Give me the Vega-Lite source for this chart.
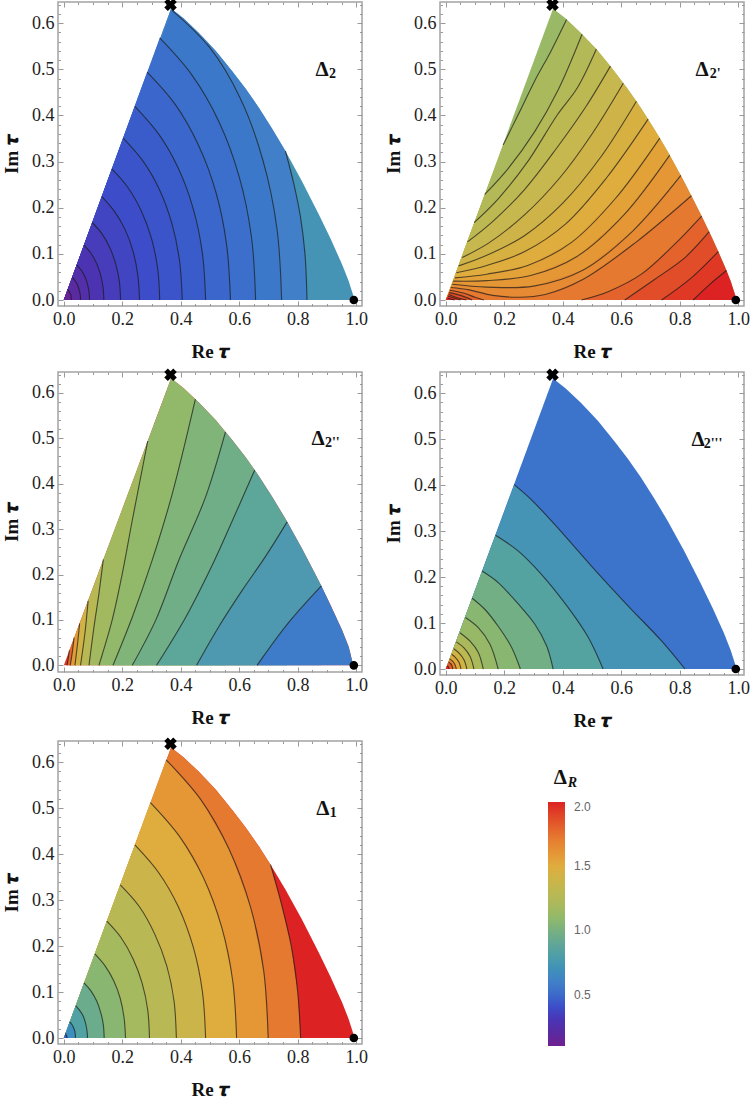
{
  "$schema": "https://vega.github.io/schema/vega-lite/v6.json",
  "padding": {"left": 1, "top": -3, "right": 0, "bottom": 0},
  "background": "white",
  "columns": 2,
  "spacing": {"column": 14, "row": 5},
  "resolve": {"legend": {"color": "independent"}},
  "config": {
    "font": "Liberation Serif",
    "view": {"stroke": "#a3a3a3", "strokeWidth": 1.5},
    "axis": {"grid": false, "domain": false, "tickColor": "#999999", "labelFont": "Liberation Serif", "labelFontSize": 18, "labelColor": "#222222", "titleFont": "Liberation Serif", "titleFontSize": 19, "titleFontWeight": "bold", "titleColor": "#111111"}
  },
  "datasets": {
    "markers": [
      {"x": 0.365, "y": 0.64, "kind": "corner"},
      {"x": 0.992, "y": 0, "kind": "cusp"}
    ],
    "p1": [
      {"level":0,"value":0.72,"x":0,"y":0,"edge":1},{"level":0,"value":0.72,"x":0.367,"y":0.632,"edge":1},{"level":0,"value":0.72,"x":0.41,"y":0.61,"edge":1},{"level":0,"value":0.72,"x":0.462,"y":0.579,"edge":1},{"level":0,"value":0.72,"x":0.52,"y":0.54,"edge":1},{"level":0,"value":0.72,"x":0.576,"y":0.496,"edge":1},{"level":0,"value":0.72,"x":0.622,"y":0.458,"edge":1},{"level":0,"value":0.72,"x":0.667,"y":0.417,"edge":1},{"level":0,"value":0.72,"x":0.712,"y":0.372,"edge":1},{"level":0,"value":0.72,"x":0.758,"y":0.323,"edge":1},{"level":0,"value":0.72,"x":0.815,"y":0.257,"edge":1},{"level":0,"value":0.72,"x":0.872,"y":0.186,"edge":1},{"level":0,"value":0.72,"x":0.913,"y":0.132,"edge":1},{"level":0,"value":0.72,"x":0.952,"y":0.077,"edge":1},{"level":0,"value":0.72,"x":0.975,"y":0.04,"edge":1},{"level":0,"value":0.72,"x":0.995,"y":0,"edge":1},
      {"level":1,"value":0.6,"x":0,"y":0,"edge":1},{"level":1,"value":0.6,"x":0.367,"y":0.632,"edge":1},{"level":1,"value":0.6,"x":0.41,"y":0.61,"edge":1},{"level":1,"value":0.6,"x":0.462,"y":0.579,"edge":1},{"level":1,"value":0.6,"x":0.52,"y":0.54,"edge":1},{"level":1,"value":0.6,"x":0.576,"y":0.496,"edge":1},{"level":1,"value":0.6,"x":0.622,"y":0.458,"edge":1},{"level":1,"value":0.6,"x":0.667,"y":0.417,"edge":1},{"level":1,"value":0.6,"x":0.712,"y":0.372,"edge":1},{"level":1,"value":0.6,"x":0.758,"y":0.323},{"level":1,"value":0.6,"x":0.787,"y":0.251},{"level":1,"value":0.6,"x":0.81,"y":0.178},{"level":1,"value":0.6,"x":0.825,"y":0.099},{"level":1,"value":0.6,"x":0.832,"y":0},
      {"level":2,"value":0.56,"x":0,"y":0,"edge":1},{"level":2,"value":0.56,"x":0.37,"y":0.628},{"level":2,"value":0.56,"x":0.498,"y":0.548},{"level":2,"value":0.56,"x":0.603,"y":0.438},{"level":2,"value":0.56,"x":0.681,"y":0.303},{"level":2,"value":0.56,"x":0.729,"y":0.155},{"level":2,"value":0.56,"x":0.745,"y":0},
      {"level":3,"value":0.52,"x":0,"y":0,"edge":1},{"level":3,"value":0.52,"x":0.328,"y":0.568},{"level":3,"value":0.52,"x":0.439,"y":0.487},{"level":3,"value":0.52,"x":0.531,"y":0.386},{"level":3,"value":0.52,"x":0.6,"y":0.267},{"level":3,"value":0.52,"x":0.642,"y":0.136},{"level":3,"value":0.52,"x":0.656,"y":0},
      {"level":4,"value":0.485,"x":0,"y":0,"edge":1},{"level":4,"value":0.485,"x":0.285,"y":0.494},{"level":4,"value":0.485,"x":0.381,"y":0.424},{"level":4,"value":0.485,"x":0.461,"y":0.335},{"level":4,"value":0.485,"x":0.521,"y":0.232},{"level":4,"value":0.485,"x":0.557,"y":0.119},{"level":4,"value":0.485,"x":0.57,"y":0},
      {"level":5,"value":0.45,"x":0,"y":0,"edge":1},{"level":5,"value":0.45,"x":0.243,"y":0.42},{"level":5,"value":0.45,"x":0.324,"y":0.36},{"level":5,"value":0.45,"x":0.392,"y":0.285},{"level":5,"value":0.45,"x":0.443,"y":0.197},{"level":5,"value":0.45,"x":0.474,"y":0.101},{"level":5,"value":0.45,"x":0.485,"y":0},
      {"level":6,"value":0.425,"x":0,"y":0,"edge":1},{"level":6,"value":0.425,"x":0.203,"y":0.351},{"level":6,"value":0.425,"x":0.271,"y":0.301},{"level":6,"value":0.425,"x":0.328,"y":0.238},{"level":6,"value":0.425,"x":0.37,"y":0.165},{"level":6,"value":0.425,"x":0.396,"y":0.084},{"level":6,"value":0.425,"x":0.405,"y":0},
      {"level":7,"value":0.4,"x":0,"y":0,"edge":1},{"level":7,"value":0.4,"x":0.164,"y":0.284},{"level":7,"value":0.4,"x":0.219,"y":0.244},{"level":7,"value":0.4,"x":0.265,"y":0.193},{"level":7,"value":0.4,"x":0.3,"y":0.133},{"level":7,"value":0.4,"x":0.321,"y":0.068},{"level":7,"value":0.4,"x":0.328,"y":0},
      {"level":8,"value":0.37,"x":0,"y":0,"edge":1},{"level":8,"value":0.37,"x":0.13,"y":0.224},{"level":8,"value":0.37,"x":0.173,"y":0.192},{"level":8,"value":0.37,"x":0.21,"y":0.152},{"level":8,"value":0.37,"x":0.237,"y":0.105},{"level":8,"value":0.37,"x":0.253,"y":0.054},{"level":8,"value":0.37,"x":0.259,"y":0},
      {"level":9,"value":0.33,"x":0,"y":0,"edge":1},{"level":9,"value":0.33,"x":0.097,"y":0.168},{"level":9,"value":0.33,"x":0.13,"y":0.144},{"level":9,"value":0.33,"x":0.157,"y":0.114},{"level":9,"value":0.33,"x":0.177,"y":0.079},{"level":9,"value":0.33,"x":0.19,"y":0.04},{"level":9,"value":0.33,"x":0.194,"y":0},
      {"level":10,"value":0.29,"x":0,"y":0,"edge":1},{"level":10,"value":0.29,"x":0.069,"y":0.119},{"level":10,"value":0.29,"x":0.092,"y":0.102},{"level":10,"value":0.29,"x":0.111,"y":0.081},{"level":10,"value":0.29,"x":0.125,"y":0.056},{"level":10,"value":0.29,"x":0.134,"y":0.028},{"level":10,"value":0.29,"x":0.137,"y":0},
      {"level":11,"value":0.25,"x":0,"y":0,"edge":1},{"level":11,"value":0.25,"x":0.044,"y":0.076},{"level":11,"value":0.25,"x":0.059,"y":0.065},{"level":11,"value":0.25,"x":0.071,"y":0.052},{"level":11,"value":0.25,"x":0.08,"y":0.036},{"level":11,"value":0.25,"x":0.086,"y":0.018},{"level":11,"value":0.25,"x":0.088,"y":0},
      {"level":12,"value":0.2,"x":0,"y":0,"edge":1},{"level":12,"value":0.2,"x":0.029,"y":0.049},{"level":12,"value":0.2,"x":0.038,"y":0.042},{"level":12,"value":0.2,"x":0.046,"y":0.034},{"level":12,"value":0.2,"x":0.052,"y":0.023},{"level":12,"value":0.2,"x":0.056,"y":0.012},{"level":12,"value":0.2,"x":0.057,"y":0},
      {"level":13,"value":0.14,"x":0,"y":0,"edge":1},{"level":13,"value":0.14,"x":0.013,"y":0.023},{"level":13,"value":0.14,"x":0.017,"y":0.019},{"level":13,"value":0.14,"x":0.021,"y":0.015},{"level":13,"value":0.14,"x":0.024,"y":0.011},{"level":13,"value":0.14,"x":0.026,"y":0}
    ],
    "p2": [
      {"level":0,"value":1.13,"x":0,"y":0,"edge":1},{"level":0,"value":1.13,"x":0.367,"y":0.632,"edge":1},{"level":0,"value":1.13,"x":0.41,"y":0.61,"edge":1},{"level":0,"value":1.13,"x":0.462,"y":0.579,"edge":1},{"level":0,"value":1.13,"x":0.52,"y":0.54,"edge":1},{"level":0,"value":1.13,"x":0.576,"y":0.496,"edge":1},{"level":0,"value":1.13,"x":0.622,"y":0.458,"edge":1},{"level":0,"value":1.13,"x":0.667,"y":0.417,"edge":1},{"level":0,"value":1.13,"x":0.712,"y":0.372,"edge":1},{"level":0,"value":1.13,"x":0.758,"y":0.323,"edge":1},{"level":0,"value":1.13,"x":0.815,"y":0.257,"edge":1},{"level":0,"value":1.13,"x":0.872,"y":0.186,"edge":1},{"level":0,"value":1.13,"x":0.913,"y":0.132,"edge":1},{"level":0,"value":1.13,"x":0.952,"y":0.077,"edge":1},{"level":0,"value":1.13,"x":0.975,"y":0.04,"edge":1},{"level":0,"value":1.13,"x":0.995,"y":0,"edge":1},
      {"level":1,"value":1.2,"x":0,"y":0,"edge":1},{"level":1,"value":1.2,"x":0.196,"y":0.336},{"level":1,"value":1.2,"x":0.25,"y":0.405},{"level":1,"value":1.2,"x":0.304,"y":0.475},{"level":1,"value":1.2,"x":0.36,"y":0.54},{"level":1,"value":1.2,"x":0.413,"y":0.608},{"level":1,"value":1.2,"x":0.466,"y":0.576,"edge":1},
      {"level":2,"value":1.25,"x":0,"y":0,"edge":1},{"level":2,"value":1.25,"x":0.133,"y":0.229},{"level":2,"value":1.25,"x":0.213,"y":0.285},{"level":2,"value":1.25,"x":0.304,"y":0.365},{"level":2,"value":1.25,"x":0.384,"y":0.455},{"level":2,"value":1.25,"x":0.466,"y":0.576},{"level":2,"value":1.25,"x":0.515,"y":0.544,"edge":1},
      {"level":3,"value":1.3,"x":0,"y":0,"edge":1},{"level":3,"value":1.3,"x":0.097,"y":0.168},{"level":3,"value":1.3,"x":0.18,"y":0.22},{"level":3,"value":1.3,"x":0.28,"y":0.3},{"level":3,"value":1.3,"x":0.38,"y":0.4},{"level":3,"value":1.3,"x":0.45,"y":0.46},{"level":3,"value":1.3,"x":0.515,"y":0.544},{"level":3,"value":1.3,"x":0.563,"y":0.507,"edge":1},
      {"level":4,"value":1.35,"x":0,"y":0,"edge":1},{"level":4,"value":1.35,"x":0.074,"y":0.126},{"level":4,"value":1.35,"x":0.16,"y":0.17},{"level":4,"value":1.35,"x":0.27,"y":0.24},{"level":4,"value":1.35,"x":0.38,"y":0.33},{"level":4,"value":1.35,"x":0.48,"y":0.42},{"level":4,"value":1.35,"x":0.563,"y":0.507},{"level":4,"value":1.35,"x":0.607,"y":0.47,"edge":1},
      {"level":5,"value":1.4,"x":0,"y":0,"edge":1},{"level":5,"value":1.4,"x":0.056,"y":0.092},{"level":5,"value":1.4,"x":0.15,"y":0.125},{"level":5,"value":1.4,"x":0.27,"y":0.185},{"level":5,"value":1.4,"x":0.39,"y":0.265},{"level":5,"value":1.4,"x":0.5,"y":0.36},{"level":5,"value":1.4,"x":0.607,"y":0.47},{"level":5,"value":1.4,"x":0.652,"y":0.431,"edge":1},
      {"level":6,"value":1.45,"x":0,"y":0,"edge":1},{"level":6,"value":1.45,"x":0.044,"y":0.074},{"level":6,"value":1.45,"x":0.14,"y":0.097},{"level":6,"value":1.45,"x":0.27,"y":0.14},{"level":6,"value":1.45,"x":0.4,"y":0.21},{"level":6,"value":1.45,"x":0.53,"y":0.31},{"level":6,"value":1.45,"x":0.652,"y":0.431},{"level":6,"value":1.45,"x":0.692,"y":0.392,"edge":1},
      {"level":7,"value":1.5,"x":0,"y":0,"edge":1},{"level":7,"value":1.5,"x":0.036,"y":0.059},{"level":7,"value":1.5,"x":0.14,"y":0.075},{"level":7,"value":1.5,"x":0.27,"y":0.105},{"level":7,"value":1.5,"x":0.41,"y":0.165},{"level":7,"value":1.5,"x":0.55,"y":0.265},{"level":7,"value":1.5,"x":0.692,"y":0.392},{"level":7,"value":1.5,"x":0.732,"y":0.351,"edge":1},
      {"level":8,"value":1.55,"x":0,"y":0,"edge":1},{"level":8,"value":1.55,"x":0.031,"y":0.048},{"level":8,"value":1.55,"x":0.14,"y":0.056},{"level":8,"value":1.55,"x":0.28,"y":0.075},{"level":8,"value":1.55,"x":0.43,"y":0.125},{"level":8,"value":1.55,"x":0.58,"y":0.22},{"level":8,"value":1.55,"x":0.732,"y":0.351},{"level":8,"value":1.55,"x":0.766,"y":0.314,"edge":1},
      {"level":9,"value":1.6,"x":0,"y":0,"edge":1},{"level":9,"value":1.6,"x":0.025,"y":0.041},{"level":9,"value":1.6,"x":0.14,"y":0.042},{"level":9,"value":1.6,"x":0.29,"y":0.053},{"level":9,"value":1.6,"x":0.45,"y":0.095},{"level":9,"value":1.6,"x":0.61,"y":0.185},{"level":9,"value":1.6,"x":0.766,"y":0.314},{"level":9,"value":1.6,"x":0.804,"y":0.27,"edge":1},
      {"level":10,"value":1.65,"x":0,"y":0,"edge":1},{"level":10,"value":1.65,"x":0.022,"y":0.034},{"level":10,"value":1.65,"x":0.14,"y":0.028},{"level":10,"value":1.65,"x":0.3,"y":0.03},{"level":10,"value":1.65,"x":0.47,"y":0.065},{"level":10,"value":1.65,"x":0.64,"y":0.15},{"level":10,"value":1.65,"x":0.804,"y":0.27},{"level":10,"value":1.65,"x":0.84,"y":0.226,"edge":1},
      {"level":11,"value":1.72,"x":0,"y":0,"edge":1},{"level":11,"value":1.72,"x":0.017,"y":0.027},{"level":11,"value":1.72,"x":0.08,"y":0.022},{"level":11,"value":1.72,"x":0.16,"y":0.01},{"level":11,"value":1.72,"x":0.25,"y":0.006},{"level":11,"value":1.72,"x":0.34,"y":0.012},{"level":11,"value":1.72,"x":0.47,"y":0.045},{"level":11,"value":1.72,"x":0.65,"y":0.125},{"level":11,"value":1.72,"x":0.84,"y":0.226},{"level":11,"value":1.72,"x":0.875,"y":0.182,"edge":1},
      {"level":12,"value":1.8,"x":0.464,"y":0},{"level":12,"value":1.8,"x":0.555,"y":0.018},{"level":12,"value":1.8,"x":0.669,"y":0.056},{"level":12,"value":1.8,"x":0.783,"y":0.121},{"level":12,"value":1.8,"x":0.875,"y":0.182},{"level":12,"value":1.8,"x":0.901,"y":0.148,"edge":1},
      {"level":13,"value":1.87,"x":0.612,"y":0},{"level":13,"value":1.87,"x":0.715,"y":0.045},{"level":13,"value":1.87,"x":0.818,"y":0.092},{"level":13,"value":1.87,"x":0.901,"y":0.148},{"level":13,"value":1.87,"x":0.932,"y":0.105,"edge":1},
      {"level":14,"value":1.94,"x":0.738,"y":0},{"level":14,"value":1.94,"x":0.84,"y":0.048},{"level":14,"value":1.94,"x":0.932,"y":0.105},{"level":14,"value":1.94,"x":0.96,"y":0.064,"edge":1},
      {"level":15,"value":2.0,"x":0.846,"y":0},{"level":15,"value":2.0,"x":0.903,"y":0.034},{"level":15,"value":2.0,"x":0.96,"y":0.064},{"level":15,"value":2.0,"x":0.975,"y":0.04,"edge":1},{"level":15,"value":2.0,"x":0.995,"y":0,"edge":1},
      {"level":16,"value":1.8,"x":0,"y":0,"edge":1},{"level":16,"value":1.8,"x":0.014,"y":0.021},{"level":16,"value":1.8,"x":0.06,"y":0.015},{"level":16,"value":1.8,"x":0.1,"y":0.006},{"level":16,"value":1.8,"x":0.13,"y":0},
      {"level":17,"value":1.86,"x":0,"y":0,"edge":1},{"level":17,"value":1.86,"x":0.012,"y":0.016},{"level":17,"value":1.86,"x":0.05,"y":0.01},{"level":17,"value":1.86,"x":0.09,"y":0},
      {"level":18,"value":1.91,"x":0,"y":0,"edge":1},{"level":18,"value":1.91,"x":0.01,"y":0.012},{"level":18,"value":1.91,"x":0.04,"y":0.005},{"level":18,"value":1.91,"x":0.07,"y":0},
      {"level":19,"value":1.95,"x":0,"y":0,"edge":1},{"level":19,"value":1.95,"x":0.008,"y":0.008},{"level":19,"value":1.95,"x":0.05,"y":0},
      {"level":20,"value":2.0,"x":0,"y":0,"edge":1},{"level":20,"value":2.0,"x":0.006,"y":0.004},{"level":20,"value":2.0,"x":0.03,"y":0}
    ],
    "p3": [
      {"level":0,"value":1.95,"x":0,"y":0,"edge":1},{"level":0,"value":1.95,"x":0.367,"y":0.632,"edge":1},{"level":0,"value":1.95,"x":0.41,"y":0.61,"edge":1},{"level":0,"value":1.95,"x":0.462,"y":0.579,"edge":1},{"level":0,"value":1.95,"x":0.52,"y":0.54,"edge":1},{"level":0,"value":1.95,"x":0.576,"y":0.496,"edge":1},{"level":0,"value":1.95,"x":0.622,"y":0.458,"edge":1},{"level":0,"value":1.95,"x":0.667,"y":0.417,"edge":1},{"level":0,"value":1.95,"x":0.712,"y":0.372,"edge":1},{"level":0,"value":1.95,"x":0.758,"y":0.323,"edge":1},{"level":0,"value":1.95,"x":0.815,"y":0.257,"edge":1},{"level":0,"value":1.95,"x":0.872,"y":0.186,"edge":1},{"level":0,"value":1.95,"x":0.913,"y":0.132,"edge":1},{"level":0,"value":1.95,"x":0.952,"y":0.077,"edge":1},{"level":0,"value":1.95,"x":0.975,"y":0.04,"edge":1},{"level":0,"value":1.95,"x":0.99,"y":0,"edge":1},
      {"level":1,"value":1.78,"x":0.011,"y":0},{"level":1,"value":1.78,"x":0.015,"y":0.015},{"level":1,"value":1.78,"x":0.019,"y":0.033},{"level":1,"value":1.78,"x":0.035,"y":0.061,"edge":1},
      {"level":2,"value":1.58,"x":0.022,"y":0},{"level":2,"value":1.58,"x":0.029,"y":0.029},{"level":2,"value":1.58,"x":0.035,"y":0.061},{"level":2,"value":1.58,"x":0.054,"y":0.092,"edge":1},
      {"level":3,"value":1.42,"x":0.038,"y":0},{"level":3,"value":1.42,"x":0.047,"y":0.048},{"level":3,"value":1.42,"x":0.054,"y":0.092},{"level":3,"value":1.42,"x":0.083,"y":0.142,"edge":1},
      {"level":4,"value":1.28,"x":0.057,"y":0},{"level":4,"value":1.28,"x":0.072,"y":0.07},{"level":4,"value":1.28,"x":0.083,"y":0.142},{"level":4,"value":1.28,"x":0.135,"y":0.233,"edge":1},
      {"level":5,"value":1.17,"x":0.086,"y":0},{"level":5,"value":1.17,"x":0.103,"y":0.084},{"level":5,"value":1.17,"x":0.12,"y":0.158},{"level":5,"value":1.17,"x":0.135,"y":0.233},{"level":5,"value":1.17,"x":0.287,"y":0.494,"edge":1},
      {"level":6,"value":1.1,"x":0.12,"y":0},{"level":6,"value":1.1,"x":0.165,"y":0.099},{"level":6,"value":1.1,"x":0.2,"y":0.202},{"level":6,"value":1.1,"x":0.234,"y":0.319},{"level":6,"value":1.1,"x":0.287,"y":0.494},{"level":6,"value":1.1,"x":0.367,"y":0.632,"edge":1},{"level":6,"value":1.1,"x":0.41,"y":0.61,"edge":1},{"level":6,"value":1.1,"x":0.45,"y":0.586,"edge":1},
      {"level":7,"value":1.04,"x":0.168,"y":0},{"level":7,"value":1.04,"x":0.234,"y":0.106},{"level":7,"value":1.04,"x":0.302,"y":0.231},{"level":7,"value":1.04,"x":0.371,"y":0.378},{"level":7,"value":1.04,"x":0.45,"y":0.586},{"level":7,"value":1.04,"x":0.462,"y":0.579,"edge":1},{"level":7,"value":1.04,"x":0.52,"y":0.54,"edge":1},{"level":7,"value":1.04,"x":0.553,"y":0.514,"edge":1},
      {"level":8,"value":0.97,"x":0.234,"y":0},{"level":8,"value":0.97,"x":0.314,"y":0.099},{"level":8,"value":0.97,"x":0.393,"y":0.231},{"level":8,"value":0.97,"x":0.485,"y":0.371},{"level":8,"value":0.97,"x":0.553,"y":0.514},{"level":8,"value":0.97,"x":0.576,"y":0.496,"edge":1},{"level":8,"value":0.97,"x":0.622,"y":0.458,"edge":1},{"level":8,"value":0.97,"x":0.653,"y":0.43,"edge":1},
      {"level":9,"value":0.88,"x":0.317,"y":0},{"level":9,"value":0.88,"x":0.416,"y":0.105},{"level":9,"value":0.88,"x":0.507,"y":0.22},{"level":9,"value":0.88,"x":0.576,"y":0.318},{"level":9,"value":0.88,"x":0.653,"y":0.43},{"level":9,"value":0.88,"x":0.667,"y":0.417,"edge":1},{"level":9,"value":0.88,"x":0.712,"y":0.372,"edge":1},{"level":9,"value":0.88,"x":0.764,"y":0.316,"edge":1},
      {"level":10,"value":0.76,"x":0.454,"y":0},{"level":10,"value":0.76,"x":0.53,"y":0.085},{"level":10,"value":0.76,"x":0.61,"y":0.165},{"level":10,"value":0.76,"x":0.69,"y":0.24},{"level":10,"value":0.76,"x":0.764,"y":0.316},{"level":10,"value":0.76,"x":0.815,"y":0.257,"edge":1},{"level":10,"value":0.76,"x":0.872,"y":0.186,"edge":1},{"level":10,"value":0.76,"x":0.881,"y":0.175,"edge":1},
      {"level":11,"value":0.58,"x":0.661,"y":0},{"level":11,"value":0.58,"x":0.77,"y":0.095},{"level":11,"value":0.58,"x":0.881,"y":0.175},{"level":11,"value":0.58,"x":0.913,"y":0.132,"edge":1},{"level":11,"value":0.58,"x":0.952,"y":0.077,"edge":1},{"level":11,"value":0.58,"x":0.975,"y":0.04,"edge":1},{"level":11,"value":0.58,"x":0.99,"y":0,"edge":1}
    ],
    "p4": [
      {"level":0,"value":0.54,"x":0,"y":0,"edge":1},{"level":0,"value":0.54,"x":0.367,"y":0.632,"edge":1},{"level":0,"value":0.54,"x":0.41,"y":0.61,"edge":1},{"level":0,"value":0.54,"x":0.462,"y":0.579,"edge":1},{"level":0,"value":0.54,"x":0.52,"y":0.54,"edge":1},{"level":0,"value":0.54,"x":0.576,"y":0.496,"edge":1},{"level":0,"value":0.54,"x":0.622,"y":0.458,"edge":1},{"level":0,"value":0.54,"x":0.667,"y":0.417,"edge":1},{"level":0,"value":0.54,"x":0.712,"y":0.372,"edge":1},{"level":0,"value":0.54,"x":0.758,"y":0.323,"edge":1},{"level":0,"value":0.54,"x":0.815,"y":0.257,"edge":1},{"level":0,"value":0.54,"x":0.872,"y":0.186,"edge":1},{"level":0,"value":0.54,"x":0.913,"y":0.132,"edge":1},{"level":0,"value":0.54,"x":0.952,"y":0.077,"edge":1},{"level":0,"value":0.54,"x":0.975,"y":0.04,"edge":1},{"level":0,"value":0.54,"x":0.995,"y":0,"edge":1},
      {"level":1,"value":0.72,"x":0,"y":0,"edge":1},{"level":1,"value":0.72,"x":0.234,"y":0.401},{"level":1,"value":0.72,"x":0.293,"y":0.368},{"level":1,"value":0.72,"x":0.373,"y":0.314},{"level":1,"value":0.72,"x":0.498,"y":0.224},{"level":1,"value":0.72,"x":0.624,"y":0.137},{"level":1,"value":0.72,"x":0.738,"y":0.061},{"level":1,"value":0.72,"x":0.818,"y":0},
      {"level":2,"value":0.85,"x":0,"y":0,"edge":1},{"level":2,"value":0.85,"x":0.17,"y":0.291},{"level":2,"value":0.85,"x":0.247,"y":0.257},{"level":2,"value":0.85,"x":0.327,"y":0.206},{"level":2,"value":0.85,"x":0.418,"y":0.134},{"level":2,"value":0.85,"x":0.487,"y":0.069},{"level":2,"value":0.85,"x":0.538,"y":0},
      {"level":3,"value":0.98,"x":0,"y":0,"edge":1},{"level":3,"value":0.98,"x":0.124,"y":0.213},{"level":3,"value":0.98,"x":0.179,"y":0.188},{"level":3,"value":0.98,"x":0.247,"y":0.142},{"level":3,"value":0.98,"x":0.304,"y":0.098},{"level":3,"value":0.98,"x":0.345,"y":0.05},{"level":3,"value":0.98,"x":0.367,"y":0},
      {"level":4,"value":1.07,"x":0,"y":0,"edge":1},{"level":4,"value":1.07,"x":0.09,"y":0.154},{"level":4,"value":1.07,"x":0.133,"y":0.13},{"level":4,"value":1.07,"x":0.179,"y":0.093},{"level":4,"value":1.07,"x":0.225,"y":0.047},{"level":4,"value":1.07,"x":0.255,"y":0},
      {"level":5,"value":1.12,"x":0,"y":0,"edge":1},{"level":5,"value":1.12,"x":0.067,"y":0.112},{"level":5,"value":1.12,"x":0.111,"y":0.09},{"level":5,"value":1.12,"x":0.151,"y":0.054},{"level":5,"value":1.12,"x":0.179,"y":0},
      {"level":6,"value":1.2,"x":0,"y":0,"edge":1},{"level":6,"value":1.2,"x":0.048,"y":0.079},{"level":6,"value":1.2,"x":0.082,"y":0.061},{"level":6,"value":1.2,"x":0.111,"y":0.036},{"level":6,"value":1.2,"x":0.128,"y":0},
      {"level":7,"value":1.3,"x":0,"y":0,"edge":1},{"level":7,"value":1.3,"x":0.036,"y":0.059},{"level":7,"value":1.3,"x":0.062,"y":0.046},{"level":7,"value":1.3,"x":0.083,"y":0.027},{"level":7,"value":1.3,"x":0.096,"y":0},
      {"level":8,"value":1.42,"x":0,"y":0,"edge":1},{"level":8,"value":1.42,"x":0.027,"y":0.044},{"level":8,"value":1.42,"x":0.046,"y":0.034},{"level":8,"value":1.42,"x":0.062,"y":0.02},{"level":8,"value":1.42,"x":0.072,"y":0},
      {"level":9,"value":1.52,"x":0,"y":0,"edge":1},{"level":9,"value":1.52,"x":0.02,"y":0.032},{"level":9,"value":1.52,"x":0.033,"y":0.025},{"level":9,"value":1.52,"x":0.045,"y":0.015},{"level":9,"value":1.52,"x":0.052,"y":0},
      {"level":10,"value":1.68,"x":0,"y":0,"edge":1},{"level":10,"value":1.68,"x":0.013,"y":0.022},{"level":10,"value":1.68,"x":0.023,"y":0.017},{"level":10,"value":1.68,"x":0.031,"y":0.01},{"level":10,"value":1.68,"x":0.036,"y":0},
      {"level":11,"value":1.82,"x":0,"y":0,"edge":1},{"level":11,"value":1.82,"x":0.009,"y":0.015},{"level":11,"value":1.82,"x":0.016,"y":0.012},{"level":11,"value":1.82,"x":0.021,"y":0.007},{"level":11,"value":1.82,"x":0.024,"y":0},
      {"level":12,"value":2.0,"x":0,"y":0,"edge":1},{"level":12,"value":2.0,"x":0.004,"y":0.007},{"level":12,"value":2.0,"x":0.008,"y":0.005},{"level":12,"value":2.0,"x":0.012,"y":0}
    ],
    "p5": [
      {"level":0,"value":2.0,"x":0,"y":0,"edge":1},{"level":0,"value":2.0,"x":0.367,"y":0.632,"edge":1},{"level":0,"value":2.0,"x":0.41,"y":0.61,"edge":1},{"level":0,"value":2.0,"x":0.462,"y":0.579,"edge":1},{"level":0,"value":2.0,"x":0.52,"y":0.54,"edge":1},{"level":0,"value":2.0,"x":0.576,"y":0.496,"edge":1},{"level":0,"value":2.0,"x":0.622,"y":0.458,"edge":1},{"level":0,"value":2.0,"x":0.667,"y":0.417,"edge":1},{"level":0,"value":2.0,"x":0.712,"y":0.372,"edge":1},{"level":0,"value":2.0,"x":0.758,"y":0.323,"edge":1},{"level":0,"value":2.0,"x":0.815,"y":0.257,"edge":1},{"level":0,"value":2.0,"x":0.872,"y":0.186,"edge":1},{"level":0,"value":2.0,"x":0.913,"y":0.132,"edge":1},{"level":0,"value":2.0,"x":0.952,"y":0.077,"edge":1},{"level":0,"value":2.0,"x":0.975,"y":0.04,"edge":1},{"level":0,"value":2.0,"x":0.995,"y":0,"edge":1},
      {"level":1,"value":1.72,"x":0,"y":0,"edge":1},{"level":1,"value":1.72,"x":0.367,"y":0.632,"edge":1},{"level":1,"value":1.72,"x":0.41,"y":0.61,"edge":1},{"level":1,"value":1.72,"x":0.462,"y":0.579,"edge":1},{"level":1,"value":1.72,"x":0.52,"y":0.54,"edge":1},{"level":1,"value":1.72,"x":0.576,"y":0.496,"edge":1},{"level":1,"value":1.72,"x":0.622,"y":0.458,"edge":1},{"level":1,"value":1.72,"x":0.667,"y":0.417,"edge":1},{"level":1,"value":1.72,"x":0.707,"y":0.377},{"level":1,"value":1.72,"x":0.745,"y":0.29},{"level":1,"value":1.72,"x":0.778,"y":0.2},{"level":1,"value":1.72,"x":0.8,"y":0.1},{"level":1,"value":1.72,"x":0.81,"y":0},
      {"level":2,"value":1.6,"x":0,"y":0,"edge":1},{"level":2,"value":1.6,"x":0.35,"y":0.605},{"level":2,"value":1.6,"x":0.468,"y":0.519},{"level":2,"value":1.6,"x":0.565,"y":0.411},{"level":2,"value":1.6,"x":0.639,"y":0.284},{"level":2,"value":1.6,"x":0.684,"y":0.145},{"level":2,"value":1.6,"x":0.699,"y":0},
      {"level":3,"value":1.5,"x":0,"y":0,"edge":1},{"level":3,"value":1.5,"x":0.296,"y":0.512},{"level":3,"value":1.5,"x":0.395,"y":0.439},{"level":3,"value":1.5,"x":0.478,"y":0.348},{"level":3,"value":1.5,"x":0.54,"y":0.241},{"level":3,"value":1.5,"x":0.578,"y":0.123},{"level":3,"value":1.5,"x":0.591,"y":0},
      {"level":4,"value":1.38,"x":0,"y":0,"edge":1},{"level":4,"value":1.38,"x":0.243,"y":0.42},{"level":4,"value":1.38,"x":0.324,"y":0.36},{"level":4,"value":1.38,"x":0.392,"y":0.285},{"level":4,"value":1.38,"x":0.443,"y":0.197},{"level":4,"value":1.38,"x":0.474,"y":0.101},{"level":4,"value":1.38,"x":0.485,"y":0},
      {"level":5,"value":1.28,"x":0,"y":0,"edge":1},{"level":5,"value":1.28,"x":0.193,"y":0.333},{"level":5,"value":1.28,"x":0.258,"y":0.286},{"level":5,"value":1.28,"x":0.311,"y":0.226},{"level":5,"value":1.28,"x":0.352,"y":0.157},{"level":5,"value":1.28,"x":0.377,"y":0.08},{"level":5,"value":1.28,"x":0.385,"y":0},
      {"level":6,"value":1.18,"x":0,"y":0,"edge":1},{"level":6,"value":1.18,"x":0.147,"y":0.254},{"level":6,"value":1.18,"x":0.196,"y":0.218},{"level":6,"value":1.18,"x":0.237,"y":0.172},{"level":6,"value":1.18,"x":0.268,"y":0.119},{"level":6,"value":1.18,"x":0.287,"y":0.061},{"level":6,"value":1.18,"x":0.293,"y":0},
      {"level":7,"value":1.07,"x":0,"y":0,"edge":1},{"level":7,"value":1.07,"x":0.106,"y":0.183},{"level":7,"value":1.07,"x":0.141,"y":0.157},{"level":7,"value":1.07,"x":0.171,"y":0.124},{"level":7,"value":1.07,"x":0.193,"y":0.086},{"level":7,"value":1.07,"x":0.206,"y":0.044},{"level":7,"value":1.07,"x":0.211,"y":0},
      {"level":8,"value":0.95,"x":0,"y":0,"edge":1},{"level":8,"value":0.95,"x":0.069,"y":0.12},{"level":8,"value":0.95,"x":0.092,"y":0.103},{"level":8,"value":0.95,"x":0.112,"y":0.081},{"level":8,"value":0.95,"x":0.126,"y":0.056},{"level":8,"value":0.95,"x":0.135,"y":0.029},{"level":8,"value":0.95,"x":0.138,"y":0},
      {"level":9,"value":0.83,"x":0,"y":0,"edge":1},{"level":9,"value":0.83,"x":0.041,"y":0.07},{"level":9,"value":0.83,"x":0.054,"y":0.06},{"level":9,"value":0.83,"x":0.066,"y":0.048},{"level":9,"value":0.83,"x":0.074,"y":0.033},{"level":9,"value":0.83,"x":0.079,"y":0.017},{"level":9,"value":0.83,"x":0.081,"y":0},
      {"level":10,"value":0.68,"x":0,"y":0,"edge":1},{"level":10,"value":0.68,"x":0.02,"y":0.035},{"level":10,"value":0.68,"x":0.027,"y":0.03},{"level":10,"value":0.68,"x":0.032,"y":0.024},{"level":10,"value":0.68,"x":0.037,"y":0.016},{"level":10,"value":0.68,"x":0.039,"y":0.008},{"level":10,"value":0.68,"x":0.04,"y":0},
      {"level":11,"value":0.45,"x":0,"y":0,"edge":1},{"level":11,"value":0.45,"x":0.006,"y":0.01},{"level":11,"value":0.45,"x":0.012,"y":0}
    ]
  },
  "concat": [
    {
      "width": 304, "height": 304,
      "data": {"name": "p1"},
      "resolve": {"axis": {"x": "independent", "y": "independent"}},
      "layer": [
        {"mark": {"type": "area", "orient": "vertical"},
         "encoding": {
           "x": {"field": "x", "type": "quantitative", "scale": {"domain": [-0.02, 1.02], "nice": false, "zero": false}, "axis": {"orient": "bottom", "values": [0, 0.2, 0.4, 0.6, 0.8, 1], "format": ".1f", "tickSize": -5, "labelPadding": 9, "titlePadding": 14, "title": "Re 𝝉"}},
           "y": {"field": "y", "type": "quantitative", "scale": {"domain": [-0.013, 0.646], "nice": false, "zero": false}, "axis": {"orient": "left", "values": [0, 0.1, 0.2, 0.3, 0.4, 0.5, 0.6], "format": ".1f", "tickSize": -5, "labelPadding": 9, "titlePadding": 10, "title": "Im 𝝉"}},
           "y2": {"datum": 0},
           "detail": {"field": "level"},
           "color": {"field": "value", "type": "quantitative", "legend": null, "scale": {"domain": [0.1,0.2,0.3,0.4,0.5,0.6,0.75,0.9,1.0,1.1,1.2,1.35,1.5,1.6,1.7,1.85,2.0], "range": ["#702090","#5a2aa0","#4a34b4","#3d4cc8","#3d6acb","#4180c8","#4f98b0","#62a796","#78b080","#92b96a","#aab95c","#c6b74e","#dfad3e","#e59635","#e67f32","#e2512a","#dc2222"]}}
         }},
        {"transform": [{"filter": "!datum.edge"}], "mark": {"type": "line", "interpolate": "catmull-rom", "stroke": "#1a1a1a", "strokeWidth": 1.1, "strokeOpacity": 0.7},
         "encoding": {
           "x": {"field": "x", "type": "quantitative", "axis": {"orient": "top", "values": [0, 0.2, 0.4, 0.6, 0.8, 1], "labels": false, "tickSize": -5, "title": null}},
           "y": {"field": "y", "type": "quantitative", "axis": {"orient": "right", "values": [0, 0.1, 0.2, 0.3, 0.4, 0.5, 0.6], "labels": false, "tickSize": -5, "title": null}},
           "detail": {"field": "level"}
         }},
        {"data": {"name": "markers"}, "mark": {"type": "point", "filled": true, "angle": 45, "color": "black", "opacity": 1},
         "encoding": {
           "x": {"field": "x", "type": "quantitative", "axis": {"orient": "bottom", "values": [0.05,0.1,0.15,0.25,0.3,0.35,0.45,0.5,0.55,0.65,0.7,0.75,0.85,0.9,0.95], "labels": false, "tickSize": -2.5, "title": null}},
           "y": {"field": "y", "type": "quantitative", "axis": {"orient": "left", "values": [0.02,0.04,0.06,0.08,0.12,0.14,0.16,0.18,0.22,0.24,0.26,0.28,0.32,0.34,0.36,0.38,0.42,0.44,0.46,0.48,0.52,0.54,0.56,0.58,0.62,0.64], "labels": false, "tickSize": -2.5, "title": null}},
           "shape": {"field": "kind", "type": "nominal", "legend": null, "scale": {"domain": ["corner", "cusp"], "range": ["cross", "circle"]}},
           "size": {"field": "kind", "type": "nominal", "legend": null, "scale": {"domain": ["corner", "cusp"], "range": [160, 75]}}
         }},
        {"data": {"values": [{"x": 0.883, "y": 0.486, "label": "Δ"}]}, "mark": {"type": "text", "font": "Liberation Serif", "fontWeight": "bold", "fontSize": 21, "align": "center", "baseline": "alphabetic", "color": "#111111"},
         "encoding": {
           "x": {"field": "x", "type": "quantitative", "axis": {"orient": "top", "values": [0.05,0.1,0.15,0.25,0.3,0.35,0.45,0.5,0.55,0.65,0.7,0.75,0.85,0.9,0.95], "labels": false, "tickSize": -2.5, "title": null}},
           "y": {"field": "y", "type": "quantitative", "axis": {"orient": "right", "values": [0.02,0.04,0.06,0.08,0.12,0.14,0.16,0.18,0.22,0.24,0.26,0.28,0.32,0.34,0.36,0.38,0.42,0.44,0.46,0.48,0.52,0.54,0.56,0.58,0.62,0.64], "labels": false, "tickSize": -2.5, "title": null}},
           "text": {"field": "label"}
         }},
        {"data": {"values": [{"x": 0.907, "y": 0.482, "label": "2"}]}, "mark": {"type": "text", "font": "Liberation Serif", "fontWeight": "bold", "fontSize": 14, "align": "left", "baseline": "alphabetic", "color": "#111111"},
         "encoding": {
           "x": {"field": "x", "type": "quantitative", "axis": null},
           "y": {"field": "y", "type": "quantitative", "axis": null},
           "text": {"field": "label"}
         }}
      ]
    },
    {
      "width": 304, "height": 304,
      "data": {"name": "p2"},
      "resolve": {"axis": {"x": "independent", "y": "independent"}},
      "layer": [
        {"mark": {"type": "area", "orient": "vertical"},
         "encoding": {
           "x": {"field": "x", "type": "quantitative", "scale": {"domain": [-0.02, 1.02], "nice": false, "zero": false}, "axis": {"orient": "bottom", "values": [0, 0.2, 0.4, 0.6, 0.8, 1], "format": ".1f", "tickSize": -5, "labelPadding": 9, "titlePadding": 14, "title": "Re 𝝉"}},
           "y": {"field": "y", "type": "quantitative", "scale": {"domain": [-0.013, 0.646], "nice": false, "zero": false}, "axis": {"orient": "left", "values": [0, 0.1, 0.2, 0.3, 0.4, 0.5, 0.6], "format": ".1f", "tickSize": -5, "labelPadding": 9, "titlePadding": 10, "title": "Im 𝝉"}},
           "y2": {"datum": 0},
           "detail": {"field": "level"},
           "color": {"field": "value", "type": "quantitative", "legend": null, "scale": {"domain": [0.1,0.2,0.3,0.4,0.5,0.6,0.75,0.9,1.0,1.1,1.2,1.35,1.5,1.6,1.7,1.85,2.0], "range": ["#702090","#5a2aa0","#4a34b4","#3d4cc8","#3d6acb","#4180c8","#4f98b0","#62a796","#78b080","#92b96a","#aab95c","#c6b74e","#dfad3e","#e59635","#e67f32","#e2512a","#dc2222"]}}
         }},
        {"transform": [{"filter": "!datum.edge"}], "mark": {"type": "line", "interpolate": "catmull-rom", "stroke": "#1a1a1a", "strokeWidth": 1.1, "strokeOpacity": 0.7},
         "encoding": {
           "x": {"field": "x", "type": "quantitative", "axis": {"orient": "top", "values": [0, 0.2, 0.4, 0.6, 0.8, 1], "labels": false, "tickSize": -5, "title": null}},
           "y": {"field": "y", "type": "quantitative", "axis": {"orient": "right", "values": [0, 0.1, 0.2, 0.3, 0.4, 0.5, 0.6], "labels": false, "tickSize": -5, "title": null}},
           "detail": {"field": "level"}
         }},
        {"data": {"name": "markers"}, "mark": {"type": "point", "filled": true, "angle": 45, "color": "black", "opacity": 1},
         "encoding": {
           "x": {"field": "x", "type": "quantitative", "axis": {"orient": "bottom", "values": [0.05,0.1,0.15,0.25,0.3,0.35,0.45,0.5,0.55,0.65,0.7,0.75,0.85,0.9,0.95], "labels": false, "tickSize": -2.5, "title": null}},
           "y": {"field": "y", "type": "quantitative", "axis": {"orient": "left", "values": [0.02,0.04,0.06,0.08,0.12,0.14,0.16,0.18,0.22,0.24,0.26,0.28,0.32,0.34,0.36,0.38,0.42,0.44,0.46,0.48,0.52,0.54,0.56,0.58,0.62,0.64], "labels": false, "tickSize": -2.5, "title": null}},
           "shape": {"field": "kind", "type": "nominal", "legend": null, "scale": {"domain": ["corner", "cusp"], "range": ["cross", "circle"]}},
           "size": {"field": "kind", "type": "nominal", "legend": null, "scale": {"domain": ["corner", "cusp"], "range": [160, 75]}}
         }},
        {"data": {"values": [{"x": 0.877, "y": 0.486, "label": "Δ"}]}, "mark": {"type": "text", "font": "Liberation Serif", "fontWeight": "bold", "fontSize": 21, "align": "center", "baseline": "alphabetic", "color": "#111111"},
         "encoding": {
           "x": {"field": "x", "type": "quantitative", "axis": {"orient": "top", "values": [0.05,0.1,0.15,0.25,0.3,0.35,0.45,0.5,0.55,0.65,0.7,0.75,0.85,0.9,0.95], "labels": false, "tickSize": -2.5, "title": null}},
           "y": {"field": "y", "type": "quantitative", "axis": {"orient": "right", "values": [0.02,0.04,0.06,0.08,0.12,0.14,0.16,0.18,0.22,0.24,0.26,0.28,0.32,0.34,0.36,0.38,0.42,0.44,0.46,0.48,0.52,0.54,0.56,0.58,0.62,0.64], "labels": false, "tickSize": -2.5, "title": null}},
           "text": {"field": "label"}
         }},
        {"data": {"values": [{"x": 0.903, "y": 0.482, "label": "2'"}]}, "mark": {"type": "text", "font": "Liberation Serif", "fontWeight": "bold", "fontSize": 14, "align": "left", "baseline": "alphabetic", "color": "#111111"},
         "encoding": {
           "x": {"field": "x", "type": "quantitative", "axis": null},
           "y": {"field": "y", "type": "quantitative", "axis": null},
           "text": {"field": "label"}
         }}
      ]
    },
    {
      "width": 304, "height": 300,
      "data": {"name": "p3"},
      "resolve": {"axis": {"x": "independent", "y": "independent"}},
      "layer": [
        {"mark": {"type": "area", "orient": "vertical"},
         "encoding": {
           "x": {"field": "x", "type": "quantitative", "scale": {"domain": [-0.02, 1.02], "nice": false, "zero": false}, "axis": {"orient": "bottom", "values": [0, 0.2, 0.4, 0.6, 0.8, 1], "format": ".1f", "tickSize": -5, "labelPadding": 9, "titlePadding": 14, "title": "Re 𝝉"}},
           "y": {"field": "y", "type": "quantitative", "scale": {"domain": [-0.0147, 0.646], "nice": false, "zero": false}, "axis": {"orient": "left", "values": [0, 0.1, 0.2, 0.3, 0.4, 0.5, 0.6], "format": ".1f", "tickSize": -5, "labelPadding": 9, "titlePadding": 10, "title": "Im 𝝉"}},
           "y2": {"datum": 0},
           "detail": {"field": "level"},
           "color": {"field": "value", "type": "quantitative", "legend": null, "scale": {"domain": [0.1,0.2,0.3,0.4,0.5,0.6,0.75,0.9,1.0,1.1,1.2,1.35,1.5,1.6,1.7,1.85,2.0], "range": ["#702090","#5a2aa0","#4a34b4","#3d4cc8","#3d6acb","#4180c8","#4f98b0","#62a796","#78b080","#92b96a","#aab95c","#c6b74e","#dfad3e","#e59635","#e67f32","#e2512a","#dc2222"]}}
         }},
        {"transform": [{"filter": "!datum.edge"}], "mark": {"type": "line", "interpolate": "catmull-rom", "stroke": "#1a1a1a", "strokeWidth": 1.1, "strokeOpacity": 0.7},
         "encoding": {
           "x": {"field": "x", "type": "quantitative", "axis": {"orient": "top", "values": [0, 0.2, 0.4, 0.6, 0.8, 1], "labels": false, "tickSize": -5, "title": null}},
           "y": {"field": "y", "type": "quantitative", "axis": {"orient": "right", "values": [0, 0.1, 0.2, 0.3, 0.4, 0.5, 0.6], "labels": false, "tickSize": -5, "title": null}},
           "detail": {"field": "level"}
         }},
        {"data": {"name": "markers"}, "mark": {"type": "point", "filled": true, "angle": 45, "color": "black", "opacity": 1},
         "encoding": {
           "x": {"field": "x", "type": "quantitative", "axis": {"orient": "bottom", "values": [0.05,0.1,0.15,0.25,0.3,0.35,0.45,0.5,0.55,0.65,0.7,0.75,0.85,0.9,0.95], "labels": false, "tickSize": -2.5, "title": null}},
           "y": {"field": "y", "type": "quantitative", "axis": {"orient": "left", "values": [0.02,0.04,0.06,0.08,0.12,0.14,0.16,0.18,0.22,0.24,0.26,0.28,0.32,0.34,0.36,0.38,0.42,0.44,0.46,0.48,0.52,0.54,0.56,0.58,0.62,0.64], "labels": false, "tickSize": -2.5, "title": null}},
           "shape": {"field": "kind", "type": "nominal", "legend": null, "scale": {"domain": ["corner", "cusp"], "range": ["cross", "circle"]}},
           "size": {"field": "kind", "type": "nominal", "legend": null, "scale": {"domain": ["corner", "cusp"], "range": [160, 75]}}
         }},
        {"data": {"values": [{"x": 0.87, "y": 0.485, "label": "Δ"}]}, "mark": {"type": "text", "font": "Liberation Serif", "fontWeight": "bold", "fontSize": 21, "align": "center", "baseline": "alphabetic", "color": "#111111"},
         "encoding": {
           "x": {"field": "x", "type": "quantitative", "axis": {"orient": "top", "values": [0.05,0.1,0.15,0.25,0.3,0.35,0.45,0.5,0.55,0.65,0.7,0.75,0.85,0.9,0.95], "labels": false, "tickSize": -2.5, "title": null}},
           "y": {"field": "y", "type": "quantitative", "axis": {"orient": "right", "values": [0.02,0.04,0.06,0.08,0.12,0.14,0.16,0.18,0.22,0.24,0.26,0.28,0.32,0.34,0.36,0.38,0.42,0.44,0.46,0.48,0.52,0.54,0.56,0.58,0.62,0.64], "labels": false, "tickSize": -2.5, "title": null}},
           "text": {"field": "label"}
         }},
        {"data": {"values": [{"x": 0.893, "y": 0.48, "label": "2''"}]}, "mark": {"type": "text", "font": "Liberation Serif", "fontWeight": "bold", "fontSize": 14, "align": "left", "baseline": "alphabetic", "color": "#111111"},
         "encoding": {
           "x": {"field": "x", "type": "quantitative", "axis": null},
           "y": {"field": "y", "type": "quantitative", "axis": null},
           "text": {"field": "label"}
         }}
      ]
    },
    {
      "width": 304, "height": 303,
      "data": {"name": "p4"},
      "resolve": {"axis": {"x": "independent", "y": "independent"}},
      "layer": [
        {"mark": {"type": "area", "orient": "vertical"},
         "encoding": {
           "x": {"field": "x", "type": "quantitative", "scale": {"domain": [-0.02, 1.02], "nice": false, "zero": false}, "axis": {"orient": "bottom", "values": [0, 0.2, 0.4, 0.6, 0.8, 1], "format": ".1f", "tickSize": -5, "labelPadding": 9, "titlePadding": 14, "title": "Re 𝝉"}},
           "y": {"field": "y", "type": "quantitative", "scale": {"domain": [-0.013, 0.646], "nice": false, "zero": false}, "axis": {"orient": "left", "values": [0, 0.1, 0.2, 0.3, 0.4, 0.5, 0.6], "format": ".1f", "tickSize": -5, "labelPadding": 9, "titlePadding": 10, "title": "Im 𝝉"}},
           "y2": {"datum": 0},
           "detail": {"field": "level"},
           "color": {"field": "value", "type": "quantitative", "legend": null, "scale": {"domain": [0.1,0.2,0.3,0.4,0.5,0.6,0.75,0.9,1.0,1.1,1.2,1.35,1.5,1.6,1.7,1.85,2.0], "range": ["#702090","#5a2aa0","#4a34b4","#3d4cc8","#3d6acb","#4180c8","#4f98b0","#62a796","#78b080","#92b96a","#aab95c","#c6b74e","#dfad3e","#e59635","#e67f32","#e2512a","#dc2222"]}}
         }},
        {"transform": [{"filter": "!datum.edge"}], "mark": {"type": "line", "interpolate": "catmull-rom", "stroke": "#1a1a1a", "strokeWidth": 1.1, "strokeOpacity": 0.7},
         "encoding": {
           "x": {"field": "x", "type": "quantitative", "axis": {"orient": "top", "values": [0, 0.2, 0.4, 0.6, 0.8, 1], "labels": false, "tickSize": -5, "title": null}},
           "y": {"field": "y", "type": "quantitative", "axis": {"orient": "right", "values": [0, 0.1, 0.2, 0.3, 0.4, 0.5, 0.6], "labels": false, "tickSize": -5, "title": null}},
           "detail": {"field": "level"}
         }},
        {"data": {"name": "markers"}, "mark": {"type": "point", "filled": true, "angle": 45, "color": "black", "opacity": 1},
         "encoding": {
           "x": {"field": "x", "type": "quantitative", "axis": {"orient": "bottom", "values": [0.05,0.1,0.15,0.25,0.3,0.35,0.45,0.5,0.55,0.65,0.7,0.75,0.85,0.9,0.95], "labels": false, "tickSize": -2.5, "title": null}},
           "y": {"field": "y", "type": "quantitative", "axis": {"orient": "left", "values": [0.02,0.04,0.06,0.08,0.12,0.14,0.16,0.18,0.22,0.24,0.26,0.28,0.32,0.34,0.36,0.38,0.42,0.44,0.46,0.48,0.52,0.54,0.56,0.58,0.62,0.64], "labels": false, "tickSize": -2.5, "title": null}},
           "shape": {"field": "kind", "type": "nominal", "legend": null, "scale": {"domain": ["corner", "cusp"], "range": ["cross", "circle"]}},
           "size": {"field": "kind", "type": "nominal", "legend": null, "scale": {"domain": ["corner", "cusp"], "range": [160, 75]}}
         }},
        {"data": {"values": [{"x": 0.863, "y": 0.484, "label": "Δ"}]}, "mark": {"type": "text", "font": "Liberation Serif", "fontWeight": "bold", "fontSize": 21, "align": "center", "baseline": "alphabetic", "color": "#111111"},
         "encoding": {
           "x": {"field": "x", "type": "quantitative", "axis": {"orient": "top", "values": [0.05,0.1,0.15,0.25,0.3,0.35,0.45,0.5,0.55,0.65,0.7,0.75,0.85,0.9,0.95], "labels": false, "tickSize": -2.5, "title": null}},
           "y": {"field": "y", "type": "quantitative", "axis": {"orient": "right", "values": [0.02,0.04,0.06,0.08,0.12,0.14,0.16,0.18,0.22,0.24,0.26,0.28,0.32,0.34,0.36,0.38,0.42,0.44,0.46,0.48,0.52,0.54,0.56,0.58,0.62,0.64], "labels": false, "tickSize": -2.5, "title": null}},
           "text": {"field": "label"}
         }},
        {"data": {"values": [{"x": 0.882, "y": 0.48, "label": "2'''"}]}, "mark": {"type": "text", "font": "Liberation Serif", "fontWeight": "bold", "fontSize": 14, "align": "left", "baseline": "alphabetic", "color": "#111111"},
         "encoding": {
           "x": {"field": "x", "type": "quantitative", "axis": null},
           "y": {"field": "y", "type": "quantitative", "axis": null},
           "text": {"field": "label"}
         }}
      ]
    },
    {
      "width": 304, "height": 303,
      "data": {"name": "p5"},
      "resolve": {"axis": {"x": "independent", "y": "independent"}},
      "layer": [
        {"mark": {"type": "area", "orient": "vertical"},
         "encoding": {
           "x": {"field": "x", "type": "quantitative", "scale": {"domain": [-0.02, 1.02], "nice": false, "zero": false}, "axis": {"orient": "bottom", "values": [0, 0.2, 0.4, 0.6, 0.8, 1], "format": ".1f", "tickSize": -5, "labelPadding": 9, "titlePadding": 14, "title": "Re 𝝉"}},
           "y": {"field": "y", "type": "quantitative", "scale": {"domain": [-0.013, 0.646], "nice": false, "zero": false}, "axis": {"orient": "left", "values": [0, 0.1, 0.2, 0.3, 0.4, 0.5, 0.6], "format": ".1f", "tickSize": -5, "labelPadding": 9, "titlePadding": 10, "title": "Im 𝝉"}},
           "y2": {"datum": 0},
           "detail": {"field": "level"},
           "color": {"field": "value", "type": "quantitative", "legend": null, "scale": {"domain": [0.1,0.2,0.3,0.4,0.5,0.6,0.75,0.9,1.0,1.1,1.2,1.35,1.5,1.6,1.7,1.85,2.0], "range": ["#702090","#5a2aa0","#4a34b4","#3d4cc8","#3d6acb","#4180c8","#4f98b0","#62a796","#78b080","#92b96a","#aab95c","#c6b74e","#dfad3e","#e59635","#e67f32","#e2512a","#dc2222"]}}
         }},
        {"transform": [{"filter": "!datum.edge"}], "mark": {"type": "line", "interpolate": "catmull-rom", "stroke": "#1a1a1a", "strokeWidth": 1.1, "strokeOpacity": 0.7},
         "encoding": {
           "x": {"field": "x", "type": "quantitative", "axis": {"orient": "top", "values": [0, 0.2, 0.4, 0.6, 0.8, 1], "labels": false, "tickSize": -5, "title": null}},
           "y": {"field": "y", "type": "quantitative", "axis": {"orient": "right", "values": [0, 0.1, 0.2, 0.3, 0.4, 0.5, 0.6], "labels": false, "tickSize": -5, "title": null}},
           "detail": {"field": "level"}
         }},
        {"data": {"name": "markers"}, "mark": {"type": "point", "filled": true, "angle": 45, "color": "black", "opacity": 1},
         "encoding": {
           "x": {"field": "x", "type": "quantitative", "axis": {"orient": "bottom", "values": [0.05,0.1,0.15,0.25,0.3,0.35,0.45,0.5,0.55,0.65,0.7,0.75,0.85,0.9,0.95], "labels": false, "tickSize": -2.5, "title": null}},
           "y": {"field": "y", "type": "quantitative", "axis": {"orient": "left", "values": [0.02,0.04,0.06,0.08,0.12,0.14,0.16,0.18,0.22,0.24,0.26,0.28,0.32,0.34,0.36,0.38,0.42,0.44,0.46,0.48,0.52,0.54,0.56,0.58,0.62,0.64], "labels": false, "tickSize": -2.5, "title": null}},
           "shape": {"field": "kind", "type": "nominal", "legend": null, "scale": {"domain": ["corner", "cusp"], "range": ["cross", "circle"]}},
           "size": {"field": "kind", "type": "nominal", "legend": null, "scale": {"domain": ["corner", "cusp"], "range": [160, 75]}}
         }},
        {"data": {"values": [{"x": 0.886, "y": 0.484, "label": "Δ"}]}, "mark": {"type": "text", "font": "Liberation Serif", "fontWeight": "bold", "fontSize": 21, "align": "center", "baseline": "alphabetic", "color": "#111111"},
         "encoding": {
           "x": {"field": "x", "type": "quantitative", "axis": {"orient": "top", "values": [0.05,0.1,0.15,0.25,0.3,0.35,0.45,0.5,0.55,0.65,0.7,0.75,0.85,0.9,0.95], "labels": false, "tickSize": -2.5, "title": null}},
           "y": {"field": "y", "type": "quantitative", "axis": {"orient": "right", "values": [0.02,0.04,0.06,0.08,0.12,0.14,0.16,0.18,0.22,0.24,0.26,0.28,0.32,0.34,0.36,0.38,0.42,0.44,0.46,0.48,0.52,0.54,0.56,0.58,0.62,0.64], "labels": false, "tickSize": -2.5, "title": null}},
           "text": {"field": "label"}
         }},
        {"data": {"values": [{"x": 0.91, "y": 0.48, "label": "1"}]}, "mark": {"type": "text", "font": "Liberation Serif", "fontWeight": "bold", "fontSize": 14, "align": "left", "baseline": "alphabetic", "color": "#111111"},
         "encoding": {
           "x": {"field": "x", "type": "quantitative", "axis": null},
           "y": {"field": "y", "type": "quantitative", "axis": null},
           "text": {"field": "label"}
         }}
      ]
    },
    {
      "width": 304, "height": 303,
      "view": {"stroke": null},
      "layer": [
        {"data": {"values": [{"value": 0.1}, {"value": 2.0}]}, "mark": {"type": "point", "filled": true, "size": 0, "opacity": 1},
         "encoding": {
           "color": {"field": "value", "type": "quantitative",
             "scale": {"domain": [0.1,0.2,0.3,0.4,0.5,0.6,0.75,0.9,1.0,1.1,1.2,1.35,1.5,1.6,1.7,1.85,2.0], "range": ["#702090","#5a2aa0","#4a34b4","#3d4cc8","#3d6acb","#4180c8","#4f98b0","#62a796","#78b080","#92b96a","#aab95c","#c6b74e","#dfad3e","#e59635","#e67f32","#e2512a","#dc2222"]},
             "legend": {"orient": "none", "legendX": 108, "legendY": 61, "title": null, "values": [0.5, 1, 1.5, 2], "format": ".1f", "direction": "vertical", "gradientLength": 244, "gradientThickness": 17, "gradientStrokeWidth": 0, "gradientOpacity": 1, "labelFont": "Liberation Sans", "labelFontSize": 12, "labelColor": "#666666", "labelOpacity": 1, "labelOffset": 9}}
         }},
        {"data": {"values": [{"x": 0.392, "y": 0.552, "label": "Δ"}]}, "mark": {"type": "text", "font": "Liberation Serif", "fontWeight": "bold", "fontSize": 21, "align": "center", "baseline": "alphabetic", "color": "#111111"},
         "encoding": {
           "x": {"field": "x", "type": "quantitative", "axis": null, "scale": {"domain": [-0.02, 1.02], "nice": false, "zero": false}},
           "y": {"field": "y", "type": "quantitative", "axis": null, "scale": {"domain": [-0.013, 0.646], "nice": false, "zero": false}},
           "text": {"field": "label"}
         }},
        {"data": {"values": [{"x": 0.417, "y": 0.546, "label": "R"}]}, "mark": {"type": "text", "font": "Liberation Serif", "fontWeight": "bold", "fontStyle": "italic", "fontSize": 14, "align": "left", "baseline": "alphabetic", "color": "#111111"},
         "encoding": {
           "x": {"field": "x", "type": "quantitative", "axis": null},
           "y": {"field": "y", "type": "quantitative", "axis": null},
           "text": {"field": "label"}
         }}
      ]
    }
  ]
}
